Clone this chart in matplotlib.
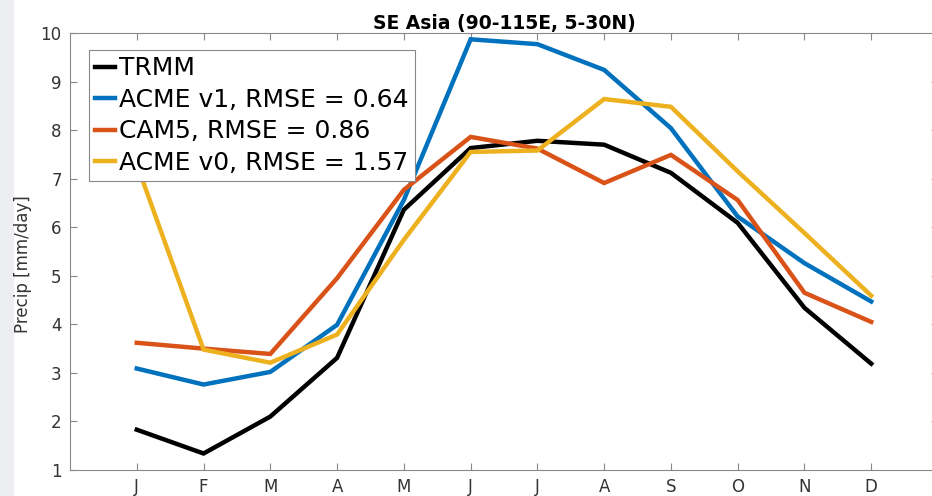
import matplotlib.pyplot as plt
import numpy as np
from matplotlib.patches import Rectangle

# monthly mean precipitation, SE Asia box
months = ['J', 'F', 'M', 'A', 'M', 'J', 'J', 'A', 'S', 'O', 'N', 'D']
trmm = [1.83, 1.34, 2.10, 3.31, 6.36, 7.63, 7.78, 7.70, 7.12, 6.09, 4.34, 3.19]
acme_v1 = [3.09, 2.76, 3.02, 3.99, 6.56, 9.87, 9.77, 9.24, 8.04, 6.22, 5.26, 4.47]
cam5 = [3.62, 3.50, 3.39, 4.95, 6.77, 7.86, 7.62, 6.91, 7.49, 6.56, 4.65, 4.05]
acme_v0 = [7.30, 3.48, 3.21, 3.79, 5.74, 7.55, 7.58, 8.64, 8.48, 7.15, 5.88, 4.59]

labels = ['TRMM', 'ACME v1, RMSE = 0.64', 'CAM5, RMSE = 0.86', 'ACME v0, RMSE = 1.57']
colors = ['black', '#0072BD', '#D95319', '#EDB120']

x = np.arange(1, 13)

fig = plt.figure(figsize=(9.32, 4.96), dpi=100)
fig.patches.append(Rectangle((0, 0), 13 / 932, 1, transform=fig.transFigure,
                             color='#eceef2', zorder=-1))
ax = fig.add_axes([70 / 932, 26 / 496, 868 / 932, 437 / 496])

for y, c, lab in zip([trmm, acme_v1, cam5, acme_v0], colors, labels):
    ax.plot(x, y, color=c, lw=3.2, label=lab, solid_joinstyle='miter')

ax.set_xlim(0, 13)
ax.set_ylim(1, 10)
ax.set_xticks(x)
ax.set_xticklabels(months)
ax.set_yticks(range(1, 11))
ax.tick_params(direction='in', length=5, width=0.8, color='#888888',
               labelcolor='#333333', labelsize=12, top=True, right=True, pad=6)
for s in ax.spines.values():
    s.set_color('#888888')
    s.set_linewidth(0.8)

ax.set_ylabel('Precip [mm/day]', fontsize=12, color='#333333')
ax.yaxis.set_label_coords(-0.044, 0.47)
ax.set_title('SE Asia (90-115E, 5-30N)', fontsize=13.5, fontweight='bold', pad=3)

leg = ax.legend(loc='upper left', bbox_to_anchor=(0.022, 0.961), fontsize=18,
                handlelength=0.8, handletextpad=0.15, borderpad=0.25,
                labelspacing=0.3, fancybox=False, framealpha=1,
                edgecolor='#888888', borderaxespad=0)
leg.get_frame().set_linewidth(0.8)

fig.savefig('out.png', dpi=100)
